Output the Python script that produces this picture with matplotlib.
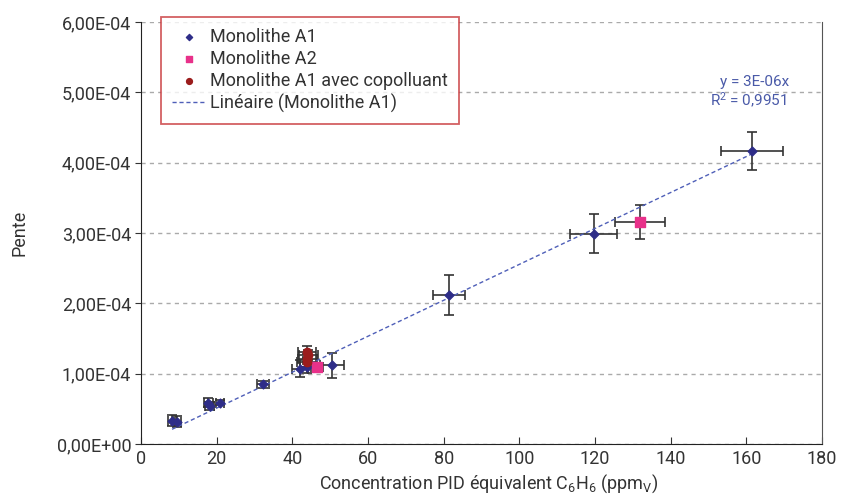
import matplotlib.pyplot as plt
import numpy as np
from matplotlib.ticker import FuncFormatter, MultipleLocator

plt.rcParams['font.family'] = ['Roboto', 'DejaVu Sans']
plt.rcParams['mathtext.fontset'] = 'custom'
plt.rcParams['mathtext.rm'] = 'Roboto'
plt.rcParams['mathtext.it'] = 'Roboto'

# Monolithe A1
a1_x = [8.2, 9.6, 17.8, 18.2, 20.8, 32.2, 42.0, 44.0, 50.5, 81.4, 119.7, 161.5]
a1_y = [0.33e-4, 0.32e-4, 0.59e-4, 0.54e-4, 0.59e-4, 0.85e-4, 1.07e-4, 1.09e-4, 1.12e-4, 2.12e-4, 2.99e-4, 4.17e-4]
a1_xerr = [1.0, 1.0, 1.2, 1.2, 1.0, 1.6, 2.2, 2.0, 3.2, 4.3, 6.2, 8.1]
a1_yerr = [0.08e-4, 0.08e-4, 0.06e-4, 0.06e-4, 0.03e-4, 0.05e-4, 0.12e-4, 0.08e-4, 0.18e-4, 0.28e-4, 0.28e-4, 0.27e-4]

# Monolithe A2
a2_x = [46.5, 131.9]
a2_y = [1.09e-4, 3.16e-4]
a2_xerr = [1.5, 6.5]
a2_yerr = [0.06e-4, 0.24e-4]

# Monolithe A1 avec copolluant
co_x = [43.8, 44.0, 44.2, 43.9]
co_y = [1.16e-4, 1.21e-4, 1.26e-4, 1.31e-4]
co_xerr = [2.5, 2.5, 2.5, 2.3]
co_yerr = [0.06e-4, 0.07e-4, 0.07e-4, 0.08e-4]

fig = plt.figure(figsize=(8.45, 4.95), dpi=100)
ax = fig.add_axes([0.1669, 0.103, 0.8059, 0.8526])

eb = dict(fmt='none', ecolor='#333333', elinewidth=1.2, capsize=3.5, capthick=1.2, zorder=2)
ax.errorbar(a1_x, a1_y, xerr=a1_xerr, yerr=a1_yerr, **eb)
ax.errorbar(a2_x, a2_y, xerr=a2_xerr, yerr=a2_yerr, **eb)
ax.errorbar(co_x, co_y, xerr=co_xerr, yerr=co_yerr, **eb)

ax.scatter(a1_x, a1_y, marker='D', s=20, color='#2e2d88', zorder=4, label='Monolithe A1')
ax.scatter(a2_x, a2_y, marker='s', s=50, color='#e8318a', zorder=4, label='Monolithe A2')
ax.scatter(co_x, co_y, marker='o', s=36, color='#9b1c1c', zorder=5, label='Monolithe A1 avec copolluant')

# linear trendline through origin
xa = np.array(a1_x)
ya = np.array(a1_y)
slope = np.sum(xa * ya) / np.sum(xa * xa)
xt = np.array([xa.min(), xa.max()])
ax.plot(xt, slope * xt, color='#4f5fb8', lw=1.0, linestyle=(0, (3, 2)), zorder=3,
        label='Linéaire (Monolithe A1)')

fig.text(755 / 845, 1 - 82 / 495, 'y = 3E-06x', color='#4a5aa8', fontsize=11, ha='center', va='center')
fig.text(748 / 845, 1 - 100 / 495, 'R$^2$ = 0,9951', color='#4a5aa8', fontsize=11, ha='center', va='center')

ax.set_xlim(0, 180)
ax.set_ylim(0, 6e-4)
ax.xaxis.set_major_locator(MultipleLocator(20))
ax.yaxis.set_major_locator(MultipleLocator(1e-4))
ax.yaxis.set_major_formatter(FuncFormatter(lambda v, p: f"{v:.2E}".replace('.', ',')))
ax.yaxis.grid(True, color='#aaaaaa', linestyle=(0, (3, 3)), lw=1)
ax.set_axisbelow(True)

ax.spines['top'].set_visible(False)
ax.spines['right'].set_color('#555555')
ax.spines['left'].set_color('#222222')
ax.spines['bottom'].set_color('#222222')
ax.tick_params(axis='x', direction='in', length=5, labelsize=13, colors='#333333', pad=4)
ax.tick_params(axis='y', direction='out', length=4, labelsize=13, colors='#333333', pad=3)

ax.set_xlabel('Concentration PID équivalent C$_6$H$_6$ (ppm$_\\mathrm{V}$)', fontsize=13, color='#333333')
ax.xaxis.set_label_coords(0.511, -0.068)
ax.set_ylabel('Pente', fontsize=13, color='#333333')
ax.yaxis.set_label_coords(-0.165, 0.5)

leg = ax.legend(loc='upper left', bbox_to_anchor=(0.03, 1.012), fontsize=13, frameon=True,
                fancybox=False, edgecolor='#c8383c', borderpad=0.6, labelspacing=0.22,
                handlelength=1.8, handletextpad=0.3, borderaxespad=0, markerscale=0.7)
leg.get_frame().set_linewidth(1.3)
leg.set_zorder(10)
for t in leg.get_texts():
    t.set_color('#333333')

plt.savefig('out.png', dpi=100)
